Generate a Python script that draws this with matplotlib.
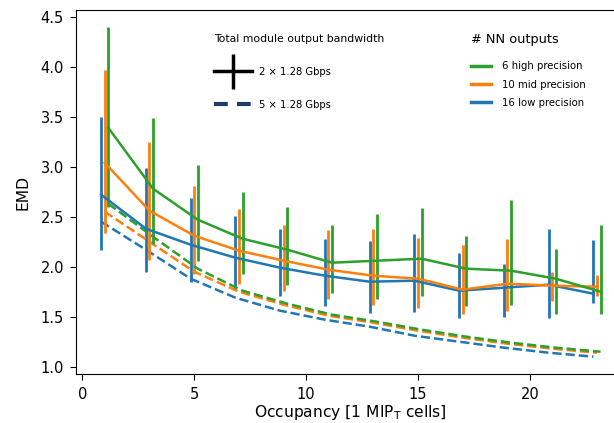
import numpy as np
import matplotlib
matplotlib.use("Agg")
import matplotlib.pyplot as plt
from matplotlib.lines import Line2D
from matplotlib.legend_handler import HandlerErrorbar

occupancy = np.array([1, 3, 5, 7, 9, 11, 13, 15, 17, 19, 21, 23])

labels = ["6 high precision", "10 mid precision", "16 low precision"]
colors = ["#2ca02c", "#ff7f0e", "#1f77b4"]
offsets = [0.16, 0.0, -0.16]

# 2 x 1.28 Gbps (solid, with error bars)
green_mean = [3.39, 2.78, 2.47, 2.28, 2.17, 2.04, 2.06, 2.08, 1.98, 1.96, 1.88, 1.75]
green_hi   = [4.40, 3.49, 3.02, 2.75, 2.60, 2.42, 2.53, 2.59, 2.31, 2.67, 2.18, 2.42]
green_lo   = [2.60, 2.23, 2.06, 1.93, 1.82, 1.74, 1.68, 1.71, 1.61, 1.62, 1.53, 1.53]
orange_mean = [3.04, 2.56, 2.31, 2.16, 2.06, 1.97, 1.91, 1.88, 1.77, 1.83, 1.81, 1.80]
orange_hi   = [3.97, 3.25, 2.81, 2.58, 2.42, 2.37, 2.38, 2.29, 2.22, 2.28, 1.95, 1.92]
orange_lo   = [2.34, 2.07, 1.93, 1.83, 1.76, 1.68, 1.62, 1.59, 1.53, 1.56, 1.66, 1.71]
blue_mean = [2.72, 2.38, 2.22, 2.09, 1.99, 1.91, 1.85, 1.86, 1.76, 1.79, 1.82, 1.73]
blue_hi   = [3.50, 2.99, 2.69, 2.51, 2.38, 2.28, 2.26, 2.33, 2.14, 2.03, 2.38, 2.27]
blue_lo   = [2.17, 1.95, 1.85, 1.78, 1.71, 1.61, 1.54, 1.55, 1.49, 1.50, 1.49, 1.64]

# 5 x 1.28 Gbps (dashed)
green_dash  = [2.63, 2.30, 1.98, 1.76, 1.63, 1.52, 1.45, 1.37, 1.30, 1.24, 1.19, 1.15]
orange_dash = [2.55, 2.25, 1.95, 1.75, 1.62, 1.51, 1.44, 1.36, 1.29, 1.23, 1.18, 1.14]
blue_dash   = [2.45, 2.17, 1.88, 1.69, 1.56, 1.47, 1.40, 1.31, 1.25, 1.19, 1.14, 1.10]

means = [green_mean, orange_mean, blue_mean]
his = [green_hi, orange_hi, blue_hi]
los = [green_lo, orange_lo, blue_lo]
dashes = [green_dash, orange_dash, blue_dash]

fig = plt.figure(figsize=(6.14, 4.23), dpi=100)
ax = fig.add_axes([0.1244, 0.1154, 0.894, 0.8607])

lw = 1.8
series_handles = []
# draw blue first, green last
for i in [2, 1, 0]:
    x = occupancy + offsets[i]
    m = np.array(means[i])
    yerr = np.vstack([m - np.array(los[i]), np.array(his[i]) - m])
    ax.errorbar(x, m, yerr=yerr, color=colors[i], lw=lw, elinewidth=2.0, capsize=0)
    ax.plot(x, dashes[i], color=colors[i], lw=lw, ls="--")

for i in range(3):
    series_handles.append(Line2D([], [], color=colors[i], lw=2.5))

ax.set_xlim(-0.265, 24.265)
ax.set_ylim(0.925, 4.566)
ax.set_xticks([0, 5, 10, 15, 20])
ax.set_yticks([1.0, 1.5, 2.0, 2.5, 3.0, 3.5, 4.0, 4.5])
ax.tick_params(labelsize=10.5, length=4, pad=5)
ax.spines["right"].set_visible(False)
ax.set_xlabel(r"Occupancy [1 MIP$_\mathrm{T}$ cells]", fontsize=11.2, labelpad=1)
ax.set_ylabel("EMD", fontsize=11.2, labelpad=7)

# bandwidth legend
eb = ax.errorbar([np.nan], [np.nan], yerr=[[0.1], [0.1]], color="black", lw=2.5, elinewidth=2.5, capsize=0)
dline = Line2D([], [], color="#1f3864", lw=3, ls=(0, (3.3, 2.2)))
leg1 = fig.legend([eb, dline], ["2 × 1.28 Gbps", "5 × 1.28 Gbps"],
                  title="Total module output bandwidth", title_fontsize=7.8, fontsize=7.2,
                  loc="upper left", bbox_to_anchor=(214 / 614, 1 - 34 / 423),
                  frameon=False, borderpad=0, borderaxespad=0,
                  handlelength=3.8, handletextpad=0.7, labelspacing=2.3,
                  alignment="left",
                  handler_map={eb: HandlerErrorbar(xerr_size=0.5, yerr_size=1.75)})

leg2 = fig.legend(series_handles, labels, title="# NN outputs", title_fontsize=9.3,
                  fontsize=7.3, loc="upper left", bbox_to_anchor=(471 / 614, 1 - 33 / 423),
                  frameon=False, borderpad=0, borderaxespad=0,
                  handlelength=2.0, handletextpad=1.1, labelspacing=0.82,
                  alignment="left")
leg2._legend_box.sep = 11

fig.savefig("out.png", dpi=100)
